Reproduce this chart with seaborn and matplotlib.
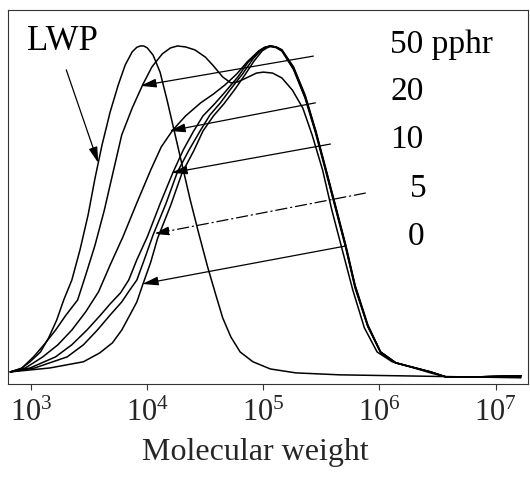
import numpy as np
import pandas as pd
import matplotlib
matplotlib.use("Agg")
import matplotlib.pyplot as plt
import seaborn as sns

# ---- data: log10(molecular weight) and normalised detector response ----
lwp_logM = [2.82, 2.91, 2.99, 3.08, 3.15, 3.22, 3.28, 3.35, 3.42, 3.49, 3.55, 3.61, 3.68,
            3.75, 3.81, 3.87, 3.91, 3.94, 3.97, 4.00, 4.05, 4.11, 4.17, 4.24, 4.31, 4.37,
            4.44, 4.52, 4.59, 4.65, 4.72, 4.80, 4.91, 5.06, 5.28, 5.66, 6.18, 6.70, 7.22]
lwp_h = [0.003, 0.012, 0.034, 0.064, 0.107, 0.162, 0.223, 0.284, 0.376, 0.483, 0.596, 0.697,
         0.798, 0.881, 0.942, 0.982, 0.996, 1.000, 1.000, 0.994, 0.972, 0.920, 0.835, 0.728,
         0.621, 0.529, 0.431, 0.324, 0.239, 0.168, 0.110, 0.064, 0.034, 0.012, 0.000,
         -0.006, -0.009, -0.012, -0.015]

p50_logM = [2.82, 2.92, 3.02, 3.11, 3.21, 3.30, 3.40, 3.47, 3.55, 3.63, 3.71, 3.78, 3.87,
            3.96, 4.04, 4.13, 4.20, 4.26, 4.33, 4.41, 4.50, 4.57, 4.65, 4.72, 4.78, 4.87,
            4.94, 5.00, 5.08, 5.16, 5.25, 5.34, 5.42, 5.51, 5.59, 5.68, 5.77, 5.87, 5.98,
            6.11, 6.27, 6.44, 6.57, 6.87, 7.22]
p50_h = [0.003, 0.015, 0.049, 0.086, 0.131, 0.177, 0.223, 0.300, 0.391, 0.498, 0.621, 0.728,
         0.810, 0.881, 0.936, 0.976, 0.994, 1.000, 0.997, 0.988, 0.966, 0.939, 0.905, 0.887,
         0.890, 0.905, 0.917, 0.920, 0.917, 0.902, 0.865, 0.810, 0.728, 0.621, 0.498, 0.376,
         0.254, 0.138, 0.064, 0.034, 0.018, 0.000, -0.012, -0.012, -0.009]

p20_logM = [2.82, 2.95, 3.10, 3.23, 3.35, 3.47, 3.58, 3.68, 3.79, 3.91, 4.03, 4.12, 4.22,
            4.33, 4.46, 4.57, 4.67, 4.77, 4.86, 4.96, 5.01,
            5.06, 5.11, 5.16, 5.26, 5.36, 5.45, 5.53, 5.62, 5.71, 5.79, 5.90, 6.01, 6.14,
            6.31, 6.44, 6.57, 6.87, 7.22]
p20_h = [0.003, 0.015, 0.049, 0.086, 0.131, 0.187, 0.248, 0.330, 0.416, 0.520, 0.621, 0.691,
         0.743, 0.786, 0.826, 0.853, 0.881, 0.914, 0.951, 0.985, 0.996,
         1.000, 0.997, 0.988, 0.936, 0.850, 0.743, 0.636, 0.514, 0.391, 0.269, 0.147, 0.064,
         0.031, 0.015, 0.003, -0.012, -0.012, -0.009]

p10_logM = [2.82, 2.99, 3.21, 3.35, 3.48, 3.59, 3.68, 3.77, 3.84, 3.91, 4.00, 4.11, 4.22,
            4.31, 4.40, 4.48, 4.58, 4.67, 4.78, 4.87, 4.97, 5.02,
            5.06, 5.11, 5.16, 5.26, 5.36, 5.45, 5.53, 5.62, 5.71, 5.79, 5.90, 6.01, 6.14,
            6.31, 6.44, 6.57, 6.87, 7.22]
p10_h = [0.003, 0.015, 0.049, 0.086, 0.131, 0.174, 0.211, 0.245, 0.284, 0.346, 0.416, 0.517,
         0.612, 0.682, 0.740, 0.786, 0.823, 0.859, 0.905, 0.951, 0.985, 0.996,
         1.000, 0.997, 0.988, 0.933, 0.846, 0.740, 0.633, 0.511, 0.388, 0.266, 0.144, 0.064,
         0.031, 0.015, 0.003, -0.012, -0.012, -0.009]

p5_logM = [2.82, 3.03, 3.31, 3.45, 3.57, 3.68, 3.78, 3.85, 3.91, 3.98, 4.05, 4.16, 4.26,
           4.36, 4.46, 4.54, 4.63, 4.72, 4.82, 4.91, 4.98, 5.02,
           5.06, 5.11, 5.16, 5.26, 5.36, 5.45, 5.53, 5.62, 5.71, 5.79, 5.90, 6.01, 6.14,
           6.31, 6.44, 6.57, 6.87, 7.22]
p5_h = [0.003, 0.015, 0.049, 0.086, 0.131, 0.177, 0.217, 0.254, 0.284, 0.352, 0.422, 0.517,
        0.615, 0.682, 0.743, 0.789, 0.826, 0.869, 0.914, 0.960, 0.988, 0.996,
        1.000, 0.996, 0.986, 0.930, 0.843, 0.737, 0.630, 0.508, 0.385, 0.263, 0.144, 0.064,
        0.031, 0.015, 0.003, -0.012, -0.012, -0.009]

p0_logM = [2.82, 3.16, 3.45, 3.59, 3.70, 3.78, 3.85, 3.91, 3.96, 4.03, 4.09, 4.20, 4.30,
           4.40, 4.48, 4.57, 4.66, 4.75, 4.84, 4.92, 4.99, 5.03,
           5.06, 5.11, 5.16, 5.26, 5.36, 5.45, 5.53, 5.62, 5.71, 5.79, 5.90, 6.01, 6.14,
           6.31, 6.44, 6.57, 6.87, 7.22]
p0_h = [0.003, 0.015, 0.034, 0.061, 0.092, 0.131, 0.177, 0.217, 0.269, 0.339, 0.413, 0.511,
        0.612, 0.679, 0.740, 0.786, 0.823, 0.865, 0.911, 0.954, 0.985, 0.994,
        0.998, 0.995, 0.984, 0.928, 0.840, 0.734, 0.627, 0.505, 0.382, 0.260, 0.141, 0.062,
        0.030, 0.015, 0.003, -0.012, -0.012, -0.009]

sample_names = ["LWP", "50 pphr", "20", "10", "5", "0"]
series = [(lwp_logM, lwp_h), (p50_logM, p50_h), (p20_logM, p20_h),
          (p10_logM, p10_h), (p5_logM, p5_h), (p0_logM, p0_h)]

tick_exponents = [3, 4, 5, 6, 7]
x_label = "Molecular weight"

# ---- build long table ----
frames = []
for name, (lm, h) in zip(sample_names, series):
    frames.append(pd.DataFrame({"M": 10 ** np.asarray(lm), "h": h, "sample": name}))
df = pd.concat(frames, ignore_index=True)

# ---- style ----
sns.set_style("white")
plt.rcParams["font.family"] = ["Liberation Serif", "DejaVu Serif"]
plt.rcParams["mathtext.fontset"] = "stix"
plt.rcParams["lines.solid_joinstyle"] = "round"

fig = plt.figure(figsize=(5.30, 4.94), dpi=100)
ax = fig.add_axes([8 / 530, 110 / 494, 520 / 530, 374 / 494])

sns.lineplot(data=df, x="M", y="h", units="sample", estimator=None, sort=False,
             color="black", linewidth=1.1, legend=False, ax=ax)

ax.set_xscale("log")
ax.set_xlim(10 ** 2.80, 10 ** 7.28)
ax.set_ylim(-0.034, 1.110)

ax.set_xticks([10.0 ** e for e in tick_exponents])
ax.set_xticklabels([r"$\mathregular{10^{%d}}$" % e for e in tick_exponents], fontsize=22)
ax.xaxis.set_minor_locator(matplotlib.ticker.NullLocator())
ax.set_yticks([])
ax.tick_params(axis="x", which="major", direction="out", length=4, width=0.8,
               color="#333333", pad=7, bottom=True, top=False)
ax.set_xlabel(x_label, fontsize=23, labelpad=10)
ax.xaxis.set_label_coords(0.475, -0.145)
ax.set_ylabel("")
for s in ax.spines.values():
    s.set_linewidth(0.8)
    s.set_color("#333333")

# ---- labels ----
text_kw = dict(ha="left", va="baseline", color="black")
ax.text(10 ** 2.966, 0.988, "LWP", fontsize=25, **text_kw)
ax.text(10 ** 6.095, 0.979, "50 pphr", fontsize=24, **text_kw)
ax.text(10 ** 6.095, 0.835, "20", fontsize=24, **text_kw)
ax.text(10 ** 6.095, 0.688, "10", fontsize=24, **text_kw)
ax.text(10 ** 6.267, 0.538, "5", fontsize=24, **text_kw)
ax.text(10 ** 6.241, 0.391, "0", fontsize=24, **text_kw)

# ---- arrows (tail -> tip) ----
arrows = [
    ((3.302, 0.927), (3.578, 0.642), "-"),
    ((5.431, 0.969), (3.940, 0.878), "-"),
    ((5.448, 0.826), (4.190, 0.740), "-"),
    ((5.578, 0.700), (4.207, 0.612), "-"),
    ((5.879, 0.550), (4.052, 0.425), (0, (9, 3, 1, 3))),
    ((5.707, 0.388), (3.957, 0.272), "-"),
]
for (tx, ty), (hx, hy), ls in arrows:
    ax.annotate("", xy=(10 ** hx, hy), xytext=(10 ** tx, ty),
                arrowprops=dict(arrowstyle="-|>,head_length=0.8,head_width=0.22",
                                mutation_scale=12, color="black", lw=0.9,
                                linestyle=ls, shrinkA=0, shrinkB=0))

fig.savefig("out.png", dpi=100)
